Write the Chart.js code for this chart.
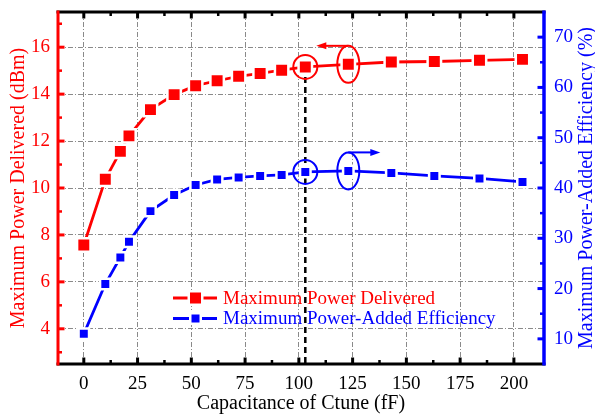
<!DOCTYPE html>
<html><head><meta charset="utf-8">
<script src="https://cdn.jsdelivr.net/npm/chart.js@4/dist/chart.umd.min.js"></script>
<style>html,body{margin:0;padding:0;background:#fff;}canvas{display:block;}</style>
</head><body>
<canvas id="c" width="595" height="420"></canvas>
<script>
// ---- data ----
const capacitance = [0, 10, 17, 21, 31, 42, 52, 62, 72, 82, 92, 103, 123, 143, 163, 184, 204];
const powerDelivered = [7.57, 10.37, 11.56, 12.22, 13.34, 13.98, 14.36, 14.57, 14.76, 14.88, 15.02, 15.16, 15.27, 15.37, 15.39, 15.44, 15.48];
const paeValues = [11.0, 20.9, 26.2, 29.3, 35.4, 38.6, 40.6, 41.7, 42.1, 42.4, 42.6, 43.2, 43.4, 43.0, 42.4, 41.9, 41.2];
const xTicks = [0, 25, 50, 75, 100, 125, 150, 175, 200];
const leftTicks = [4, 6, 8, 10, 12, 14, 16];
const rightTicks = [10, 20, 30, 40, 50, 60, 70];
const highlightX = [103, 123];
const seriesLabels = ['Maximum Power Delivered', 'Maximum Power-Added Efficiency'];
const xTitle = 'Capacitance of Ctune (fF)';
const leftTitle = 'Maximum Power Delivered (dBm)';
const rightTitle = 'Maximum Power-Added Efficiency (%)';

const RED = '#ff0000', BLUE = '#0000ff';
const FONT = "'Liberation Serif', 'Times New Roman', serif";

function minorsOf(majors, min, max) {
  const step = majors[1] - majors[0];
  const out = [];
  for (let v = majors[0] - step / 2; v <= max; v += step) {
    if (v > min && v < max && !majors.includes(v)) out.push(v);
  }
  return out;
}

function drawMarker(ctx, x, y, side, color) {
  ctx.save();
  ctx.fillStyle = '#fff';
  ctx.fillRect(x - side / 2 - 2.5, y - side / 2 - 2.5, side + 5, side + 5);
  ctx.fillStyle = color;
  ctx.fillRect(x - side / 2, y - side / 2, side, side);
  ctx.restore();
}

const deco = {
  id: 'deco',
  beforeDatasetsDraw(chart) {
    const {ctx, chartArea: ca, scales: {x, yL}} = chart;
    const i = capacitance.indexOf(highlightX[0]);
    const px = x.getPixelForValue(capacitance[i]);
    const py = yL.getPixelForValue(powerDelivered[i]);
    ctx.save();
    ctx.strokeStyle = '#000'; ctx.lineWidth = 2.5; ctx.setLineDash([6, 4]);
    ctx.beginPath(); ctx.moveTo(px, py); ctx.lineTo(px, ca.bottom); ctx.stroke();
    ctx.restore();
  },
  afterDatasetsDraw(chart) {
    const {ctx, scales: {x, yL, yR}} = chart;
    const groups = [
      {vals: powerDelivered, scale: yL, color: RED, dir: -1},
      {vals: paeValues, scale: yR, color: BLUE, dir: 1}
    ];
    groups.forEach(g => {
      ctx.save();
      ctx.strokeStyle = g.color; ctx.fillStyle = g.color; ctx.lineWidth = 2;
      // circle around first highlight
      const i0 = capacitance.indexOf(highlightX[0]);
      const cx0 = x.getPixelForValue(capacitance[i0]);
      const cy0 = g.scale.getPixelForValue(g.vals[i0]);
      ctx.beginPath(); ctx.arc(cx0, cy0, 12, 0, Math.PI * 2); ctx.stroke();
      // ellipse around second highlight
      const i1 = capacitance.indexOf(highlightX[1]);
      const cx1 = x.getPixelForValue(capacitance[i1]);
      const cy1 = g.scale.getPixelForValue(g.vals[i1]);
      const rx = 11, ry = 18.5;
      ctx.beginPath(); ctx.ellipse(cx1, cy1, rx, ry, 0, 0, Math.PI * 2); ctx.stroke();
      // arrow from ellipse top
      const ay = cy1 - ry;
      const tip = cx1 + g.dir * 32;
      ctx.beginPath(); ctx.moveTo(cx1, ay); ctx.lineTo(tip - g.dir * 8, ay); ctx.stroke();
      ctx.beginPath();
      ctx.moveTo(tip, ay);
      ctx.lineTo(tip - g.dir * 10, ay - 3.5);
      ctx.lineTo(tip - g.dir * 10, ay + 3.5);
      ctx.closePath(); ctx.fill();
      ctx.restore();
    });
  },
  afterDraw(chart) {
    const {ctx, chartArea: ca, scales: {x, yL, yR}} = chart;
    ctx.save();
    const seg = (x1, y1, x2, y2, c, w) => {
      ctx.strokeStyle = c; ctx.lineWidth = w;
      ctx.beginPath(); ctx.moveTo(x1, y1); ctx.lineTo(x2, y2); ctx.stroke();
    };
    // frame
    seg(ca.left - 1.5, ca.top, ca.right + 1.5, ca.top, '#000', 3);
    seg(ca.left - 1.5, ca.bottom, ca.right + 1.5, ca.bottom, '#000', 3);
    seg(ca.left, ca.top - 1.5, ca.left, ca.bottom + 1.5, RED, 3);
    seg(ca.right, ca.top - 1.5, ca.right, ca.bottom + 1.5, BLUE, 3.5);
    // x ticks (bottom and top, inward)
    const xm = minorsOf(xTicks, x.min, x.max);
    xTicks.forEach(v => { const p = x.getPixelForValue(v);
      seg(p, ca.bottom, p, ca.bottom - 6.5, '#000', 3); seg(p, ca.top, p, ca.top + 6.5, '#000', 3); });
    xm.forEach(v => { const p = x.getPixelForValue(v);
      if (p - ca.left < 6 || ca.right - p < 6) return;
      seg(p, ca.bottom, p, ca.bottom - 4, '#000', 2.5); seg(p, ca.top, p, ca.top + 4, '#000', 2.5); });
    // left ticks
    leftTicks.forEach(v => { const p = yL.getPixelForValue(v); seg(ca.left, p, ca.left + 6.5, p, RED, 3); });
    minorsOf(leftTicks, yL.min, yL.max).forEach(v => { const p = yL.getPixelForValue(v);
      if (p - ca.top < 6 || ca.bottom - p < 6) return; seg(ca.left, p, ca.left + 4, p, RED, 2.5); });
    // right ticks
    rightTicks.forEach(v => { const p = yR.getPixelForValue(v); seg(ca.right, p, ca.right - 6.5, p, BLUE, 3); });
    minorsOf(rightTicks, yR.min, yR.max).forEach(v => { const p = yR.getPixelForValue(v);
      if (p - ca.top < 6 || ca.bottom - p < 6) return; seg(ca.right, p, ca.right - 4, p, BLUE, 2.5); });
    // right title (reads bottom to top)
    ctx.fillStyle = BLUE;
    ctx.font = '20px ' + FONT;
    ctx.textAlign = 'center'; ctx.textBaseline = 'middle';
    ctx.translate(chart.width - 8.5, (ca.top + ca.bottom) / 2);
    ctx.rotate(-Math.PI / 2);
    ctx.fillText(rightTitle, 0, 0);
    ctx.restore();
    // legend
    ctx.save();
    const lx0 = ca.left + 115, lx1 = ca.left + 159, mx = ca.left + 137.5, tx = ca.left + 165;
    const rows = [
      {y: ca.top + 286, color: RED, side: 11},
      {y: ca.top + 306.5, color: BLUE, side: 8}
    ];
    chart.data.datasets.forEach((ds, k) => {
      const r = rows[k];
      seg(lx0, r.y, lx1, r.y, ds.borderColor, 2.8);
      drawMarker(ctx, mx, r.y, r.side, ds.borderColor);
      ctx.fillStyle = ds.borderColor;
      ctx.font = '19px ' + FONT;
      ctx.textAlign = 'left'; ctx.textBaseline = 'middle';
      ctx.fillText(ds.label, tx, r.y + 1);
    });
    ctx.restore();
  }
};

const zeroPad = s => { s.paddingLeft = 0; s.paddingRight = 0; s.paddingTop = 0; s.paddingBottom = 0; };
const gridDash = [5, 2, 1, 2];

new Chart(document.getElementById('c'), {
  type: 'line',
  data: {
    datasets: [
      {
        label: seriesLabels[0],
        data: capacitance.map((c, i) => ({x: c, y: powerDelivered[i]})),
        yAxisID: 'yL',
        borderColor: RED, backgroundColor: RED, borderWidth: 2.8,
        pointStyle: 'rect', pointRadius: 9.5, pointBorderWidth: 2.5,
        pointBorderColor: '#fff', pointBackgroundColor: RED,
        tension: 0, clip: false
      },
      {
        label: seriesLabels[1],
        data: capacitance.map((c, i) => ({x: c, y: paeValues[i]})),
        yAxisID: 'yR',
        borderColor: BLUE, backgroundColor: BLUE, borderWidth: 2.8,
        pointStyle: 'rect', pointRadius: 7.4, pointBorderWidth: 2.5,
        pointBorderColor: '#fff', pointBackgroundColor: BLUE,
        tension: 0, clip: false
      }
    ]
  },
  options: {
    responsive: false,
    animation: false,
    devicePixelRatio: 1,
    events: [],
    layout: {padding: {top: 7, left: 0, right: 0, bottom: 0}},
    plugins: {legend: {display: false}, tooltip: {enabled: false}},
    scales: {
      x: {
        type: 'linear', position: 'bottom', min: -12, max: 214,
        afterBuildTicks: s => { s.ticks = xTicks.map(v => ({value: v})); },
        afterFit: s => { s.height = 56; zeroPad(s); },
        ticks: {font: {family: FONT, size: 19}, color: '#000', padding: 9, maxRotation: 0, autoSkip: false},
        grid: {color: '#8a8a8a', lineWidth: 1, drawTicks: false},
        border: {display: false, dash: gridDash},
        title: {display: true, text: xTitle, color: '#000', font: {family: FONT, size: 20}, padding: {top: 0, bottom: 4}}
      },
      yL: {
        type: 'linear', position: 'left', min: 2.5, max: 17.5,
        afterBuildTicks: s => { s.ticks = leftTicks.map(v => ({value: v})); },
        afterFit: s => { s.width = 58; zeroPad(s); },
        ticks: {font: {family: FONT, size: 19}, color: RED, padding: 8, autoSkip: false},
        grid: {color: '#8a8a8a', lineWidth: 1, drawTicks: false},
        border: {display: false, dash: gridDash},
        title: {display: true, text: leftTitle, color: RED, font: {family: FONT, size: 20}, padding: {top: 7, bottom: 0}}
      },
      yR: {
        type: 'linear', position: 'right', min: 5, max: 75,
        afterBuildTicks: s => { s.ticks = rightTicks.map(v => ({value: v})); },
        afterFit: s => { s.width = 51; zeroPad(s); },
        ticks: {font: {family: FONT, size: 19}, color: BLUE, padding: 10, autoSkip: false},
        grid: {drawOnChartArea: false, drawTicks: false},
        border: {display: false}
      }
    }
  },
  plugins: [deco]
});
</script>
</body></html>
